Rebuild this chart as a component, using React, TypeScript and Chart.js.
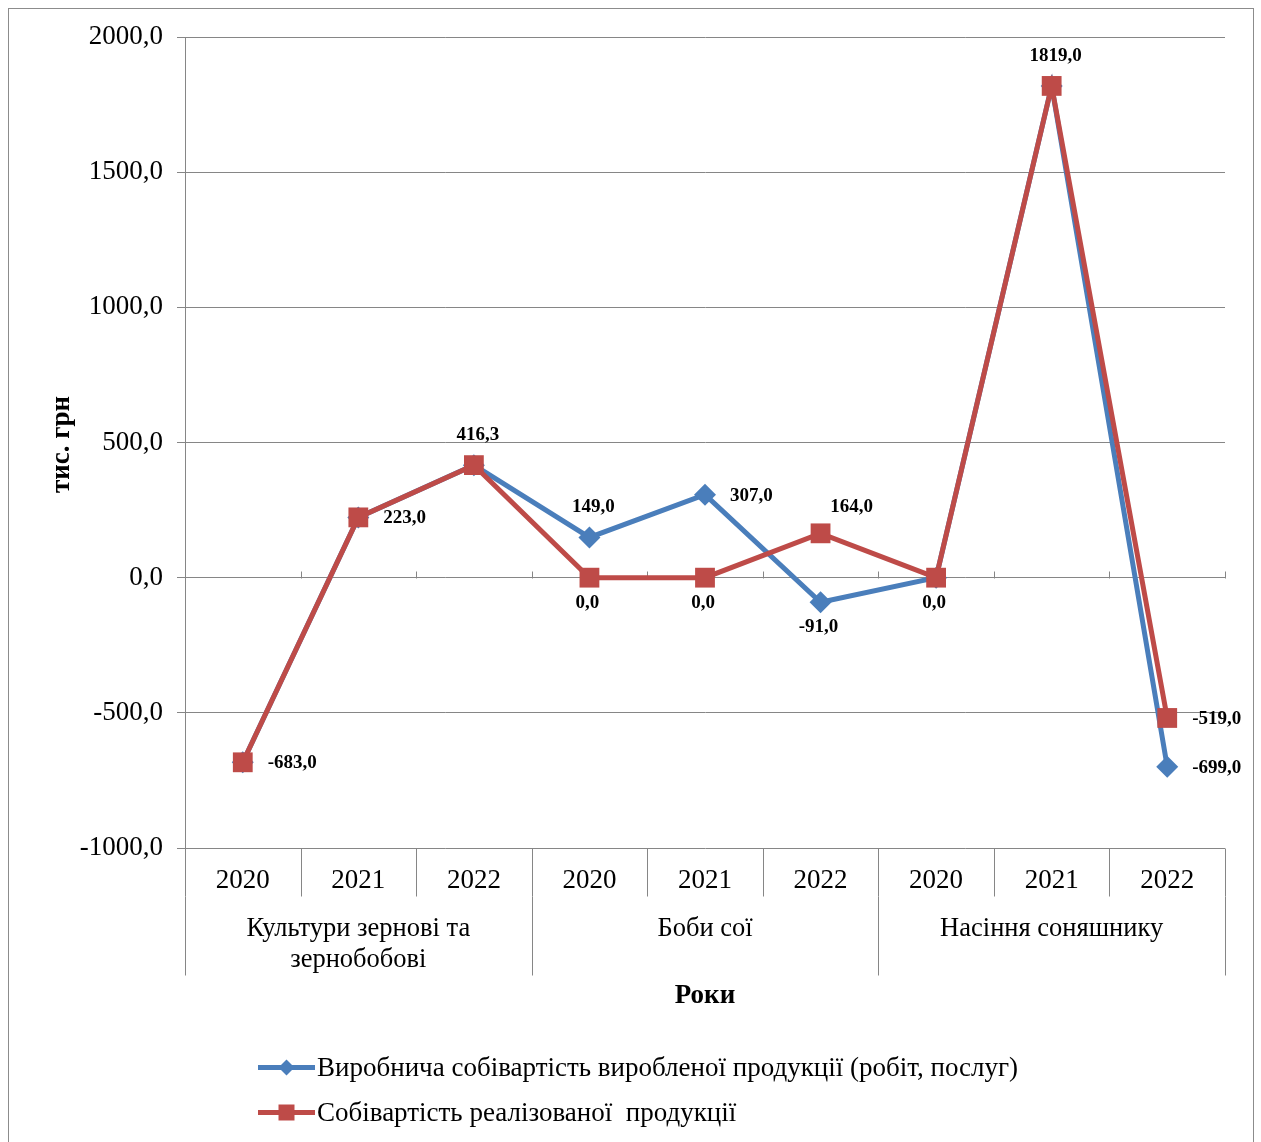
import React, { useEffect, useRef } from 'react';
import { Chart, registerables } from 'chart.js';

Chart.register(...registerables);

const years = ['2020', '2021', '2022', '2020', '2021', '2022', '2020', '2021', '2022'];
const groupNames = [['Культури зернові та', 'зернобобові'], ['Боби сої'], ['Насіння соняшнику']];
const groupSizes = [3, 3, 3];
const productionCost = [-683, 223, 416.3, 149, 307, -91, 0, 1819, -699];
const salesCost = [-683, 223, 416.3, 0, 0, 164, 0, 1819, -519];
const seriesNames = [
  'Виробнича собівартість виробленої продукції (робіт, послуг)',
  'Собівартість реалізованої  продукції',
];
const yMin = -1000;
const yMax = 2000;
const yStep = 500;
const yTitle = 'тис. грн';
const xTitle = 'Роки';
const productionLabelPos = [null, null, null, 'above', 'right', 'below', null, null, 'right'];
const salesLabelPos = ['right', 'right', 'above', 'below', 'below', 'aboveRight', 'below', 'above', 'right'];

const BLUE = '#4A7EBB';
const RED = '#BE4B48';
const GRID = '#868686';
const FONT = '"Liberation Serif", "Times New Roman", serif';

const fmt = (v: number) => v.toFixed(1).replace('.', ',');

const customPlugin = {
  id: 'customDecor',
  beforeDraw(chart: any) {
    const ctx = chart.ctx;
    ctx.save();
    ctx.fillStyle = '#ffffff';
    ctx.fillRect(0, 0, chart.width, chart.height);
    ctx.strokeStyle = '#8c8c8c';
    ctx.lineWidth = 1;
    ctx.strokeRect(8.5, 8.5, chart.width - 16, chart.height + 20);
    ctx.restore();
  },
  beforeDatasetsDraw(chart: any) {
    const ctx = chart.ctx;
    const xs = chart.scales.x;
    const ys = chart.scales.y;
    const area = chart.chartArea;
    const step = xs.getPixelForValue(1) - xs.getPixelForValue(0);
    const b0 = xs.getPixelForValue(0) - step / 2;
    const zeroY = Math.round(ys.getPixelForValue(0)) + 0.5;
    const bottom = Math.round(area.bottom) + 0.5;
    ctx.save();
    ctx.strokeStyle = GRID;
    ctx.lineWidth = 1;
    ctx.beginPath();
    for (let i = 1; i <= years.length; i++) {
      const x = Math.round(b0 + i * step) + 0.5;
      ctx.moveTo(x, zeroY - 7);
      ctx.lineTo(x, zeroY);
    }
    for (let i = 0; i <= years.length; i++) {
      const x = Math.round(b0 + i * step) + 0.5;
      ctx.moveTo(x, bottom);
      ctx.lineTo(x, bottom + 48);
    }
    let acc = 0;
    const gb = [0];
    groupSizes.forEach((s) => { acc += s; gb.push(acc); });
    gb.forEach((g) => {
      const x = Math.round(b0 + g * step) + 0.5;
      ctx.moveTo(x, bottom + 48);
      ctx.lineTo(x, bottom + 127);
    });
    ctx.stroke();

    ctx.fillStyle = '#000';
    ctx.textAlign = 'center';
    ctx.textBaseline = 'middle';
    ctx.font = `27px ${FONT}`;
    years.forEach((y, i) => {
      ctx.fillText(y, xs.getPixelForValue(i), bottom + 32);
    });
    ctx.font = `26.5px ${FONT}`;
    let start = 0;
    groupNames.forEach((lines, gi) => {
      const cx = b0 + (start + groupSizes[gi] / 2) * step;
      lines.forEach((ln, li) => {
        ctx.fillText(ln, cx, bottom + 81 + li * 31);
      });
      start += groupSizes[gi];
    });
    ctx.font = `bold 27px ${FONT}`;
    ctx.fillText(xTitle, (area.left + area.right) / 2, bottom + 148);

    ctx.save();
    ctx.translate(62, (area.top + area.bottom) / 2 + 2);
    ctx.rotate(-Math.PI / 2);
    ctx.fillText(yTitle, 0, 0);
    ctx.restore();

    const legendItems = [
      { name: seriesNames[0], color: BLUE, style: 'diamond' },
      { name: seriesNames[1], color: RED, style: 'square' },
    ];
    ctx.font = `27px ${FONT}`;
    ctx.textAlign = 'left';
    legendItems.forEach((it, i) => {
      const ly = bottom + 219 + i * 45;
      const lx0 = area.left + 73;
      const lx1 = area.left + 130;
      ctx.strokeStyle = it.color;
      ctx.lineWidth = 5;
      ctx.beginPath();
      ctx.moveTo(lx0, ly);
      ctx.lineTo(lx1, ly);
      ctx.stroke();
      ctx.fillStyle = it.color;
      const mx = (lx0 + lx1) / 2;
      ctx.beginPath();
      if (it.style === 'diamond') {
        ctx.moveTo(mx, ly - 8);
        ctx.lineTo(mx + 8, ly);
        ctx.lineTo(mx, ly + 8);
        ctx.lineTo(mx - 8, ly);
        ctx.closePath();
      } else {
        ctx.rect(mx - 8, ly - 8, 16, 16);
      }
      ctx.fill();
      ctx.fillStyle = '#000';
      ctx.fillText(it.name, lx1 + 2, ly + 1);
    });
    ctx.restore();
  },
  afterDatasetsDraw(chart: any) {
    const ctx = chart.ctx;
    ctx.save();
    ctx.fillStyle = '#000';
    ctx.font = `bold 19px ${FONT}`;
    ctx.textBaseline = 'middle';
    const draw = (dsIndex: number, values: number[], pos: (string | null)[]) => {
      const meta = chart.getDatasetMeta(dsIndex);
      values.forEach((v, i) => {
        const p = pos[i];
        if (!p) return;
        const pt = meta.data[i];
        const t = fmt(v);
        if (p === 'right') {
          ctx.textAlign = 'left';
          ctx.fillText(t, pt.x + 25, pt.y + 1);
        } else if (p === 'above') {
          ctx.textAlign = 'center';
          ctx.fillText(t, pt.x + 4, pt.y - 30);
        } else if (p === 'below') {
          ctx.textAlign = 'center';
          ctx.fillText(t, pt.x - 2, pt.y + 25);
        } else if (p === 'aboveRight') {
          ctx.textAlign = 'center';
          ctx.fillText(t, pt.x + 31, pt.y - 26);
        }
      });
    };
    draw(0, productionCost, productionLabelPos);
    draw(1, salesCost, salesLabelPos);
    ctx.restore();
  },
};

export default function App() {
  const ref = useRef<HTMLCanvasElement | null>(null);
  useEffect(() => {
    if (!ref.current) return;
    const chart = new Chart(ref.current, {
      type: 'line',
      data: {
        labels: years,
        datasets: [
          {
            label: seriesNames[0],
            data: productionCost,
            borderColor: BLUE,
            backgroundColor: BLUE,
            borderWidth: 5,
            pointStyle: 'rectRot',
            pointRadius: 11,
            pointBorderWidth: 0,
            pointBackgroundColor: BLUE,
            tension: 0,
            order: 1,
          },
          {
            label: seriesNames[1],
            data: salesCost,
            borderColor: RED,
            backgroundColor: RED,
            borderWidth: 5,
            pointStyle: 'rect',
            pointRadius: 14,
            pointBorderWidth: 0,
            pointBackgroundColor: RED,
            tension: 0,
            order: 0,
          },
        ],
      },
      options: {
        animation: false,
        responsive: false,
        devicePixelRatio: 1,
        layout: { padding: { left: 0, top: 37, right: 36, bottom: 294 } },
        plugins: { legend: { display: false }, tooltip: { enabled: false }, title: { display: false } },
        scales: {
          x: { display: false, offset: true },
          y: {
            min: yMin,
            max: yMax,
            afterFit: (scale: any) => { scale.width = 185; },
            ticks: {
              stepSize: yStep,
              padding: 14,
              color: '#000',
              font: { family: FONT, size: 27 },
              callback: (v: any) => fmt(Number(v)),
            },
            grid: { color: GRID, lineWidth: 1, tickLength: 8, drawTicks: true },
            border: { display: true, color: GRID, width: 1 },
          },
        },
      },
      plugins: [customPlugin],
    });
    return () => chart.destroy();
  }, []);
  return (
    <div style={{ position: 'absolute', left: 0, top: 0, width: 1261, height: 1142 }}>
      <canvas ref={ref} width={1261} height={1142} style={{ width: 1261, height: 1142, display: 'block' }} />
    </div>
  );
}
